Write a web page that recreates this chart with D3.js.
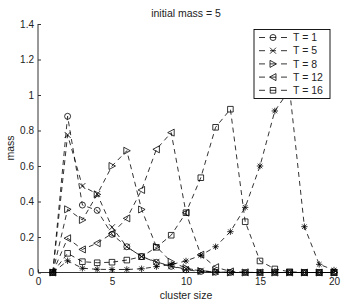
<!DOCTYPE html>
<html><head><meta charset="utf-8">
<script src="https://cdn.jsdelivr.net/npm/d3@7"></script>
<style>body{margin:0;background:#fff;} svg{display:block;} text{font-family:"Liberation Sans",Arial,sans-serif;}</style>
</head><body>
<script>
const clusterSizes = [1,2,3,4,5,6,7,8,9,10,11,12,13,14,15,16,17,18,19,20];
const massT1  = [0,0.88,0.38,0.35,0.215,0.145,0.09,0.057,0.035,0.015,0.006,0.002,0,0,0,0,0,0,0,0];
const massT5  = [0,0.775,0.487,0.442,0.255,0.145,0.09,0.06,0.035,0.02,0.01,0.004,0,0,0,0,0,0,0,0];
const massT8  = [0,0.356,0.296,0.44,0.60,0.686,0.355,0.145,0.06,0.025,0.008,0.003,0,0,0,0,0,0,0,0];
const massT12 = [0,0.193,0.13,0.165,0.22,0.305,0.465,0.694,0.788,0.337,0.1,0.03,0.006,0.001,0,0,0,0,0,0];
const massT16 = [0,0.108,0.061,0.055,0.058,0.07,0.089,0.142,0.21,0.337,0.534,0.818,0.92,0.286,0.065,0.02,0.004,0,0,0];
const massUnlabeled = [0,0.066,0.024,0.018,0.017,0.017,0.021,0.033,0.045,0.065,0.097,0.145,0.23,0.367,0.6,0.91,1.03,0.258,0.046,0.014];
const legendLabels = ["T = 1","T = 5","T = 8","T = 12","T = 16"];
const xTicks = [0,5,10,15,20];
const xTickLabels = ["0","5","10","15","20"];
const yTicks = [0,0.2,0.4,0.6,0.8,1,1.2,1.4];
const yTickLabels = ["0","0.2","0.4","0.6","0.8","1","1.2","1.4"];
const titleText = "initial mass = 5";
const xLabel = "cluster size";
const yLabel = "mass";

const W = 345, H = 304;
const svg = d3.select("body").append("svg").attr("width", W).attr("height", H);
const x = d3.scaleLinear().domain([0,20]).range([38,334]);
const y = d3.scaleLinear().domain([0,1.4]).range([272.5,24]);

// marker shapes
const markers = {
  circle: "M3,0A3,3 0 1,1 -3,0A3,3 0 1,1 3,0Z",
  x: "M-3,-3L3,3M-3,3L3,-3",
  tri_right: "M3.5,0L-3,-3.5L-3,3.5Z",
  tri_left: "M-3.5,0L3,-3.5L3,3.5Z",
  square: "M-2.8,-2.8H2.8V2.8H-2.8Z",
  star: "M-3.2,0H3.2M0,-3.2V3.2M-2.3,-2.3L2.3,2.3M-2.3,2.3L2.3,-2.3"
};

const series = [
  {vals: massT1, m: "circle"},
  {vals: massT5, m: "x"},
  {vals: massT8, m: "tri_right"},
  {vals: massT12, m: "tri_left"},
  {vals: massT16, m: "square"},
  {vals: massUnlabeled, m: "star"}
];

// axes
const gx = svg.append("g").attr("transform", `translate(0,${y(0)})`)
  .call(d3.axisBottom(x).tickValues(xTicks).tickSize(-3).tickPadding(5)
    .tickFormat((d,i)=>xTickLabels[i]));
const gy = svg.append("g").attr("transform", `translate(${x(0)},0)`)
  .call(d3.axisLeft(y).tickValues(yTicks).tickSize(-3).tickPadding(4)
    .tickFormat((d,i)=>yTickLabels[i]));
[gx,gy].forEach(g=>{
  g.select(".domain").attr("stroke","#333").attr("stroke-width",1);
  g.selectAll(".tick line").attr("stroke","#333");
  g.selectAll("text").attr("font-size",10).attr("fill","#222").attr("font-family","'Liberation Sans',Arial,sans-serif");
});
// remove outer ticks of domain path
gx.select(".domain").attr("d", `M${x(0)},0H${x(20)}`);
gy.select(".domain").attr("d", `M0,${y(1.4)}V${y(0)}`);

const line = d3.line().x((d,i)=>x(clusterSizes[i])).y(d=>y(d));
series.forEach(s=>{
  svg.append("path").attr("d", line(s.vals)).attr("fill","none")
    .attr("stroke","#000").attr("stroke-width",0.8).attr("stroke-dasharray","5,4");
});
series.forEach(s=>{
  svg.append("g").selectAll("path").data(s.vals).join("path")
    .attr("transform",(d,i)=>`translate(${x(clusterSizes[i])},${y(d)})`)
    .attr("d", markers[s.m]).attr("fill","none").attr("stroke","#000").attr("stroke-width",0.8);
});

// title and labels
svg.append("text").attr("x",186).attr("y",17).attr("text-anchor","middle").attr("font-size",10.5).attr("fill","#222").text(titleText);
svg.append("text").attr("x",186).attr("y",299).attr("text-anchor","middle").attr("font-size",10.5).attr("fill","#222").text(xLabel);
svg.append("text").attr("transform","translate(14,148) rotate(-90)").attr("text-anchor","middle").attr("font-size",10.5).attr("fill","#222").text(yLabel);

// legend
const lg = svg.append("g");
lg.append("rect").attr("x",254).attr("y",29.5).attr("width",76).attr("height",69)
  .attr("fill","#fff").attr("stroke","#000").attr("stroke-width",0.9);
legendLabels.forEach((lab,i)=>{
  const yy = 37.5 + 13.2*i;
  lg.append("path").attr("d",`M259,${yy}H287`).attr("stroke","#000").attr("stroke-width",0.8).attr("stroke-dasharray","6,5");
  lg.append("path").attr("transform",`translate(273,${yy})`).attr("d",markers[series[i].m])
    .attr("fill","none").attr("stroke","#000").attr("stroke-width",0.8);
  lg.append("text").attr("x",293).attr("y",yy).attr("dy","0.35em").attr("font-size",10.5).attr("fill","#222").text(lab);
});
</script>
</body></html>
